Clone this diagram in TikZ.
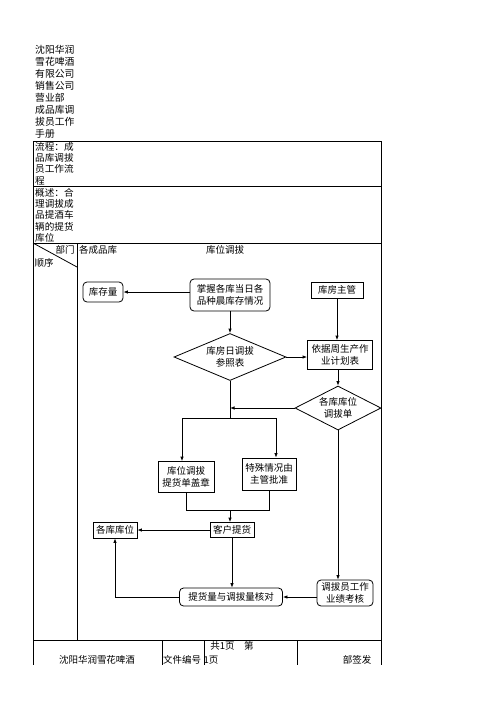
\documentclass[tikz,border=0pt]{standalone}
\usepackage{fontspec}
\setmainfont{Noto Sans CJK SC}
\usetikzlibrary{shapes.geometric,arrows.meta}
\begin{document}
\begin{tikzpicture}[x=1pt,y=-1pt,
  font=\fontsize{9.5}{12}\selectfont,
  tline/.style={line width=0.8pt},
  box/.style={draw, line width=0.8pt, inner sep=1pt, align=center},
  rbox/.style={box, rounded corners=4pt},
  dia/.style={draw, diamond, line width=0.8pt, inner sep=0pt, align=center},
  arr/.style={line width=0.8pt, -{Latex[length=4.5pt,width=3.5pt]}},
  ln/.style={line width=0.8pt},
  ttext/.style={anchor=north west, inner sep=0pt, align=left, font=\fontsize{9.6}{11.3}\selectfont}]
\useasboundingbox (0,0) rectangle (496,702);
% table frame
\draw[tline] (33,141) -- (381,141);
\draw[tline] (33,186) -- (381,186);
\draw[tline] (33,243) -- (381,243);
\draw[tline] (33,640) -- (381,640);
\draw[tline] (33,141) -- (33,665);
\draw[tline] (381,141) -- (381,665);
\draw[tline] (77,243) -- (77,640);
\draw[tline] (33,243) -- (77,267);
\draw[tline] (162,640) -- (162,665);
\draw[tline] (204,640) -- (204,665);
\draw[tline] (297,640) -- (297,665);
% table texts
\node[ttext, font=\fontsize{9.8}{12}\selectfont] (title) at (35,45) {沈阳华润\\雪花啤酒\\有限公司\\销售公司\\营业部\\成品库调\\拔员工作\\手册};
\node[ttext] (flow) at (35,142) {流程：成\\品库调拔\\员工作流\\程};
\node[ttext] (desc) at (35,188) {概述：合\\理调拔成\\品提酒车\\辆的提货\\库位};
\node[inner sep=0pt] (bm) at (65,250) {部门};
\node[inner sep=0pt] (sx) at (44,263) {顺序};
\node[inner sep=0pt] (gcp) at (98,250) {各成品库};
\node[inner sep=0pt] (kwdb) at (225,250) {库位调拔};
% footer
\node[inner sep=0pt] (f1) at (97,660) {沈阳华润雪花啤酒};
\node[inner sep=0pt] (f2) at (182,660) {文件编号};
\node[inner sep=0pt] (f3) at (232,646) {共1页\quad 第};
\node[inner sep=0pt] (f4) at (211,660) {1页};
\node[inner sep=0pt] (f5) at (357,660) {部签发};
% flow nodes
\node[rbox, minimum width=40, minimum height=20] (kcl) at (103,292) {库存量};
\node[rbox, minimum width=80, minimum height=32] (zw) at (230,295) {掌握各库当日各\\品种晨库存情况};
\node[box, minimum width=52, minimum height=16] (kfzg) at (337,290) {库房主管};
\node[dia, aspect=2.4, minimum width=112, minimum height=47] (d1) at (230,357) {库房日调拔\\参照表};
\node[box, minimum width=65, minimum height=29] (yj) at (340,355) {依据周生产作\\业计划表};
\node[dia, aspect=2, minimum width=86, minimum height=44] (d2) at (338,408) {各库库位\\调拔单};
\node[box, minimum width=56, minimum height=31] (kw) at (186,477) {库位调拔\\提货单盖章};
\node[box, minimum width=54, minimum height=32] (ts) at (269,474) {特殊情况由\\主管批准};
\node[box, minimum width=44, minimum height=15] (kh) at (232,530) {客户提货};
\node[box, minimum width=44, minimum height=16] (kk) at (115,530) {各库库位};
\node[rbox, minimum width=103, minimum height=18] (hd) at (231,597) {提货量与调拔量核对};
\node[rbox, minimum width=56, minimum height=26] (dy) at (345,593) {调拔员工作\\业绩考核};
% junctions
\coordinate (j1) at (d1.south |- d2.west);
\coordinate (j2) at (230,418);
\coordinate (jl) at (182,418);
\coordinate (jr) at (276,418);
\coordinate (jb) at (230,510);
% connectors
\draw[arr] (zw.west |- kcl) -- (kcl.east);
\draw[arr] (zw.south) -- (d1.north);
\draw[arr] (kfzg.south) -- (kfzg.south |- yj.north);
\draw[arr] (d1.east) -- (d1.east -| yj.west);
\draw[arr] (yj.south -| d2.north) -- (d2.north);
\draw[ln] (d1.south) -- (j2);
\draw[arr] (d2.west) -- (j1);
\draw[ln] (jl) -- (jr);
\draw[arr] (jl) -- (jl |- kw.north);
\draw[arr] (jr) -- (jr |- ts.north);
\draw[ln] (kw.south) -- (kw.south |- jb) -| (ts.south);
\draw[arr] (jb) -- (jb |- kh.north);
\draw[arr] (kh.west) -- (kk.east);
\draw[arr] (kh.south) -- (kh.south |- hd.north);
\draw[arr] (hd.west) -| (kk.south);
\draw[arr] (dy.west |- hd) -- (hd.east);
\draw[arr] (d2.south) -- (d2.south |- dy.north);
\end{tikzpicture}
\end{document}
